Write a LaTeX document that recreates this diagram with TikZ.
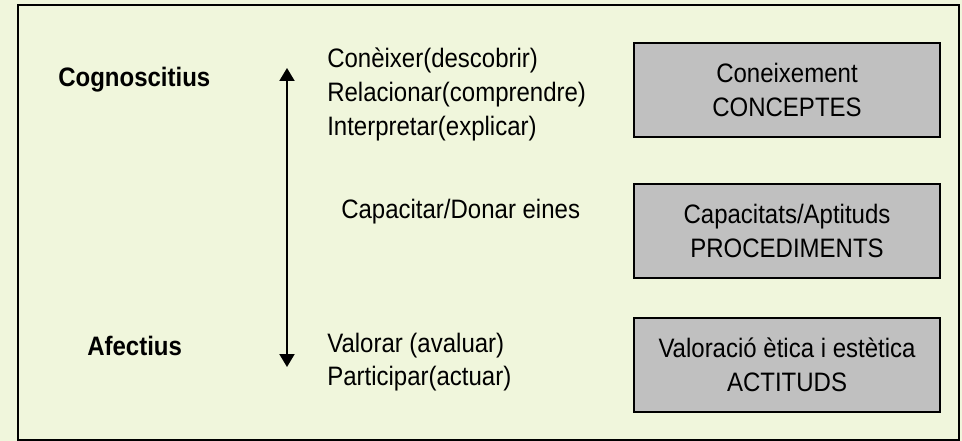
\documentclass[tikz,border=0pt]{standalone}
\usepackage{fontspec}
\setmainfont{Liberation Sans}[FakeStretch=0.9]
\usetikzlibrary{arrows.meta}
\definecolor{paper}{RGB}{240,246,220}
\definecolor{boxgray}{RGB}{192,192,192}

\begin{document}
\begin{tikzpicture}[x=0.75pt,y=-0.75pt,
    every node/.style={font=\fontsize{20}{25.5}\selectfont, inner sep=0pt},
    levelbox/.style={draw=black, line width=1.5pt, fill=boxgray,
      minimum width=229.5pt, minimum height=70.5pt, align=center},
    verbs/.style={anchor=base west, align=left},
    sidename/.style={anchor=base west, font=\fontsize{20}{25.5}\selectfont\bfseries},
    updown/.style={line width=1.5pt,
      {Triangle[width=11.25pt,length=9.75pt]}-{Triangle[width=11.25pt,length=9.75pt]}}]
    % background and frame
    \fill[paper] (0,0) rectangle (962,441);
    \draw[line width=1.2pt] (18,5) rectangle (959,440);
    % the two ends of the scale
    \node[sidename] (cog) at (58,87) {Cognoscitius};
    \node[sidename] (afe) at (87,355) {Afectius};
    \coordinate (top) at (287,68);
    \coordinate (bottom) at (287,367);
    \draw[updown] (top) -- (bottom);
    % what is done at each level (base = last line)
    \node[verbs] (know) at (327,136)
      {Conèixer(descobrir)\\Relacionar(comprendre)\\Interpretar(explicar)};
    \node[verbs] (tools) at (341,219) {Capacitar/Donar eines};
    \node[verbs, font=\fontsize{20}{24.3}\selectfont] (value) at (327,385)
      {Valorar (avaluar)\\Participar(actuar)};
    % contents
    \node[levelbox] (concepts) at (787,90) {Coneixement\\CONCEPTES};
    \node[levelbox] (procs) at (787,231) {Capacitats/Aptituds\\PROCEDIMENTS};
    \node[levelbox] (attitudes) at (787,365) {Valoració ètica i estètica\\ACTITUDS};
\end{tikzpicture}
\end{document}
